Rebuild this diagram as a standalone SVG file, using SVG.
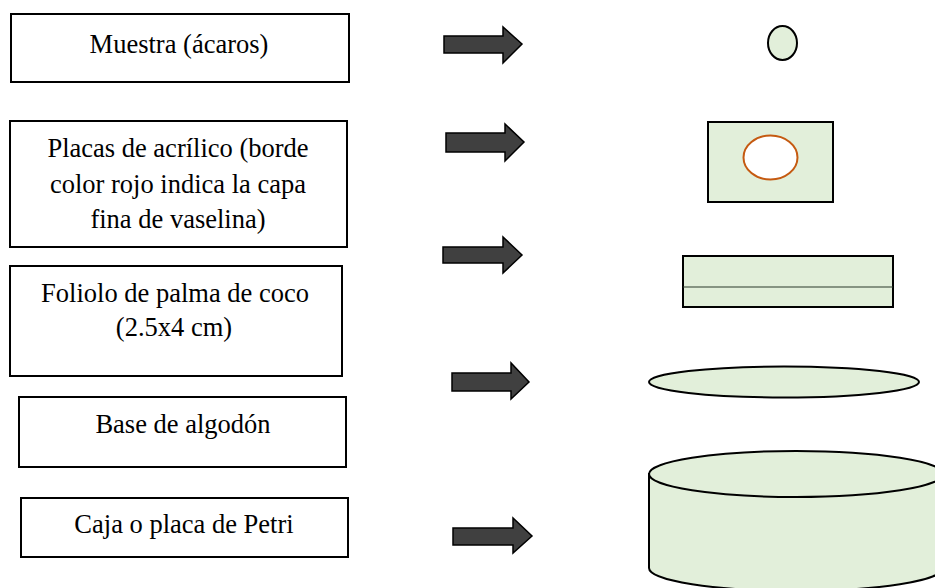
<svg xmlns="http://www.w3.org/2000/svg" width="935" height="588" viewBox="0 0 935 588">
<style>
.box{fill:#fff;stroke:#000;stroke-width:2}
.lbl{font-family:"Liberation Serif","Times New Roman",serif;font-size:26.5px;fill:#000;text-anchor:middle}
.arr{fill:#404040;stroke:#000;stroke-width:1.5;stroke-linejoin:miter}
.g{fill:#e2efda;stroke:#000;stroke-width:2}
</style>
<rect width="935" height="588" fill="#fff"/>
<g id="n1"><rect class="box" x="11" y="14" width="338" height="68"/><text class="lbl" x="179" y="53">Muestra (ácaros)</text></g>
<g id="n2"><rect class="box" x="10" y="121" width="337" height="126"/><text class="lbl" x="178" y="157">Placas de acrílico (borde</text><text class="lbl" x="178" y="193">color rojo indica la capa</text><text class="lbl" x="178" y="228">fina de vaselina)</text></g>
<g id="n3"><rect class="box" x="10" y="266" width="332" height="110"/><text class="lbl" x="175" y="302">Foliolo de palma de coco</text><text class="lbl" x="174" y="336">(2.5x4 cm)</text></g>
<g id="n4"><rect class="box" x="19" y="397" width="327" height="70"/><text class="lbl" x="183" y="433">Base de algodón</text></g>
<g id="n5"><rect class="box" x="21" y="498" width="327" height="59"/><text class="lbl" x="184" y="533">Caja o placa de Petri</text></g>
<g id="connectors">
<polygon class="arr" points="444,36 503,36 503,27 522,44 503,63 503,53 444,53"/>
<polygon class="arr" points="446,133 505,133 505,124 524,142 505,161 505,152 446,152"/>
<polygon class="arr" points="443,247 503,247 503,237 522,255 503,273 503,263 443,263"/>
<polygon class="arr" points="452,373 511,373 511,363 529,382 511,399 511,391 452,391"/>
<polygon class="arr" points="453,528 513,528 513,518 532,536 513,553 513,545 453,545"/>
</g>
<g id="s1"><ellipse class="g" cx="782.5" cy="43" rx="14.5" ry="17"/></g>
<g id="s2"><rect class="g" x="708" y="122" width="125" height="80"/><ellipse cx="770.5" cy="157.5" rx="27" ry="22" fill="#fff" stroke="#c55a11" stroke-width="2"/></g>
<g id="s3"><rect class="g" x="683" y="256" width="210" height="51"/><line x1="683" y1="287" x2="893" y2="287" stroke="#2a3a2a" stroke-width="1.2"/></g>
<g id="s4"><ellipse class="g" cx="784" cy="382" rx="135" ry="15.5"/></g>
<g id="s5"><path class="g" d="M649,474 L649,568 A147,23 0 0 0 943,568 L943,474 Z"/><ellipse class="g" cx="796" cy="474" rx="147" ry="23"/></g>
</svg>
